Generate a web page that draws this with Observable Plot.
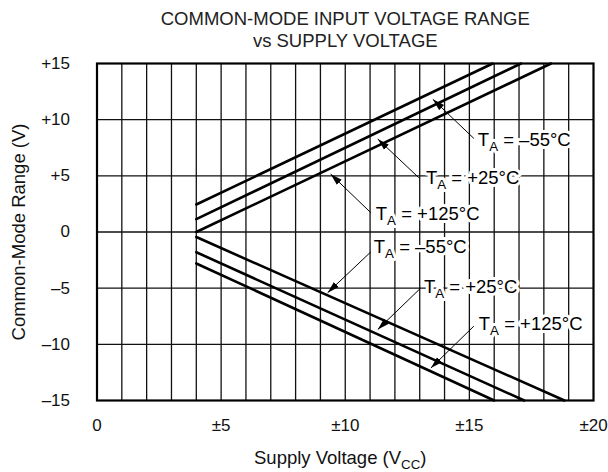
<!DOCTYPE html>
<html><head><meta charset="utf-8">
<script src="https://cdn.jsdelivr.net/npm/d3@7"></script>
<script src="https://cdn.jsdelivr.net/npm/@observablehq/plot@0.6"></script>
<style>
body{margin:0;background:#fff}
#wrap{position:relative;width:608px;height:472px}
</style>
</head><body><div id="wrap"></div>
<script>
// ---- data ----
const xTicks = [0, 5, 10, 15, 20];
const xTickLabels = ["0", "±5", "±10", "±15", "±20"];
const yTicks = [15, 10, 5, 0, -5, -10, -15];
const yTickLabels = ["+15", "+10", "+5", "0", "–5", "–10", "–15"];
const xGrid = [1,2,3,4,5,6,7,8,9,10,11,12,13,14,15,16,17,18,19];
const yGrid = [-10, -5, 0, 5, 10];

const temps = ["–55°C", "+25°C", "+125°C"];
// positive common-mode limit (start at ±4 V, end where it reaches +15 V)
const upperStartVcc = [4, 4, 4];
const upperStartV = [2.45, 1.15, 0];
const upperEndVcc = [15.94, 17.08, 18.29];
const upperEndV = [15, 15, 15];
// negative common-mode limit
const lowerStartVcc = [4, 4, 4];
const lowerStartV = [-0.45, -1.8, -2.8];
const lowerEndVcc = [18.83, 17.21, 16.0];
const lowerEndV = [-15, -15, -15];

// annotation labels (data units) and arrow tips
const upperLabelVcc = [15.34, 13.25, 11.23];
const upperLabelV = [8.2, 4.84, 1.63];
const upperArrowFromVcc = [15.18, 12.96, 11.03];
const upperArrowFromV = [8.33, 4.84, 1.72];
const upperArrowToVcc = [13.53, 11.31, 9.41];
const upperArrowToV = [11.81, 8.28, 5.16];
const lowerLabelVcc = [11.15, 13.17, 15.38];
const lowerLabelV = [-1.32, -4.9, -8.2];
const lowerArrowFromVcc = [11.03, 13.04, 15.18];
const lowerArrowFromV = [-1.77, -4.99, -8.38];
const lowerArrowToVcc = [9.29, 11.31, 13.45];
const lowerArrowToV = [-5.41, -8.68, -12.11];

const title1 = "COMMON-MODE INPUT VOLTAGE RANGE";
const title2 = "vs SUPPLY VOLTAGE";
const xLabel = "Supply Voltage (V_{CC})";
const yLabel = "Common-Mode Range (V)";

// ---- build tables ----
const lines = [];
temps.forEach((t, i) => {
  lines.push({series: "up" + i, vcc: upperStartVcc[i], v: upperStartV[i]});
  lines.push({series: "up" + i, vcc: upperEndVcc[i], v: upperEndV[i]});
  lines.push({series: "lo" + i, vcc: lowerStartVcc[i], v: lowerStartV[i]});
  lines.push({series: "lo" + i, vcc: lowerEndVcc[i], v: lowerEndV[i]});
});
const notes = [];
temps.forEach((t, i) => {
  notes.push({label: "T_{A} = " + t, lx: upperLabelVcc[i], ly: upperLabelV[i],
    x1: upperArrowFromVcc[i], y1: upperArrowFromV[i], x2: upperArrowToVcc[i], y2: upperArrowToV[i]});
  notes.push({label: "T_{A} = " + t, lx: lowerLabelVcc[i], ly: lowerLabelV[i],
    x1: lowerArrowFromVcc[i], y1: lowerArrowFromV[i], x2: lowerArrowToVcc[i], y2: lowerArrowToV[i]});
});

const arrowHead = (color) => {
  const m = d3.create("svg:marker")
    .attr("viewBox", "-12 -4 12 8")
    .attr("markerWidth", 12).attr("markerHeight", 8)
    .attr("refX", 0).attr("refY", 0)
    .attr("markerUnits", "userSpaceOnUse")
    .attr("orient", "auto")
    .attr("fill", color).attr("stroke", "none");
  m.append("path").attr("d", "M-12,-3.5L0,0L-12,3.5Z");
  return m.node();
};

const font = "'Liberation Sans', Arial, Helvetica, sans-serif";

const plot = Plot.plot({
  width: 608, height: 472,
  marginLeft: 96.5, marginRight: 15, marginTop: 63, marginBottom: 72,
  x: {domain: [0, 20]},
  y: {domain: [-15, 15]},
  style: {fontFamily: font, fontSize: "17px", color: "#111", background: "white", overflow: "visible"},
  marks: [
    Plot.ruleX(xGrid, {stroke: "#111", strokeWidth: 1.3}),
    Plot.ruleY(yGrid, {stroke: "#111", strokeWidth: 1.3}),
    Plot.line(lines, {x: "vcc", y: "v", z: "series", stroke: "#000", strokeWidth: 2.6}),
    Plot.link(notes, {x1: "x1", y1: "y1", x2: "x2", y2: "y2", stroke: "#000", strokeWidth: 1, markerEnd: arrowHead}),
    Plot.text(notes, {x: "lx", y: "ly", text: "label", textAnchor: "start", lineAnchor: "middle", fill: "#000",
      stroke: "white", strokeWidth: 6, fontSize: 18.5}),
    Plot.frame({stroke: "#000", strokeWidth: 2.2}),
    Plot.axisX({ticks: xTicks, tickFormat: (d) => xTickLabels[xTicks.indexOf(d)], tickSize: 0, tickPadding: 18, label: null}),
    Plot.axisY({ticks: yTicks, tickFormat: (d) => yTickLabels[yTicks.indexOf(d)], tickSize: 0, tickPadding: 27, label: null}),
    Plot.text([yLabel], {text: (d) => d, frameAnchor: "left", textAnchor: "middle", lineAnchor: "middle", dx: -78, rotate: -90, fontSize: 18.5}),
    Plot.text([xLabel], {text: (d) => d, frameAnchor: "bottom", textAnchor: "middle", lineAnchor: "middle", dx: -5, dy: 58, fontSize: 18.5}),
    Plot.text([title1], {text: (d) => d, frameAnchor: "top", textAnchor: "middle", lineAnchor: "middle", dy: -44, fontSize: 18.5, fill: "#222"}),
    Plot.text([title2], {text: (d) => d, frameAnchor: "top", textAnchor: "middle", lineAnchor: "middle", dy: -22, fontSize: 18.5, fill: "#222"})
  ]
});

// turn "X_{sub}rest" into real subscripts
const NS = "http://www.w3.org/2000/svg";
plot.querySelectorAll("text").forEach((t) => {
  const s = t.textContent;
  const m = s.match(/^(.*?)_\{(.+?)\}(.*)$/);
  if (!m) return;
  while (t.firstChild) t.removeChild(t.firstChild);
  const a = document.createElementNS(NS, "tspan"); a.textContent = m[1];
  const b = document.createElementNS(NS, "tspan"); b.textContent = m[2];
  b.setAttribute("dy", "5"); b.setAttribute("font-size", "0.72em");
  const c = document.createElementNS(NS, "tspan"); c.textContent = m[3];
  c.setAttribute("dy", "-5");
  t.append(a, b, c);
});

document.getElementById("wrap").appendChild(plot);
</script>
</body></html>
